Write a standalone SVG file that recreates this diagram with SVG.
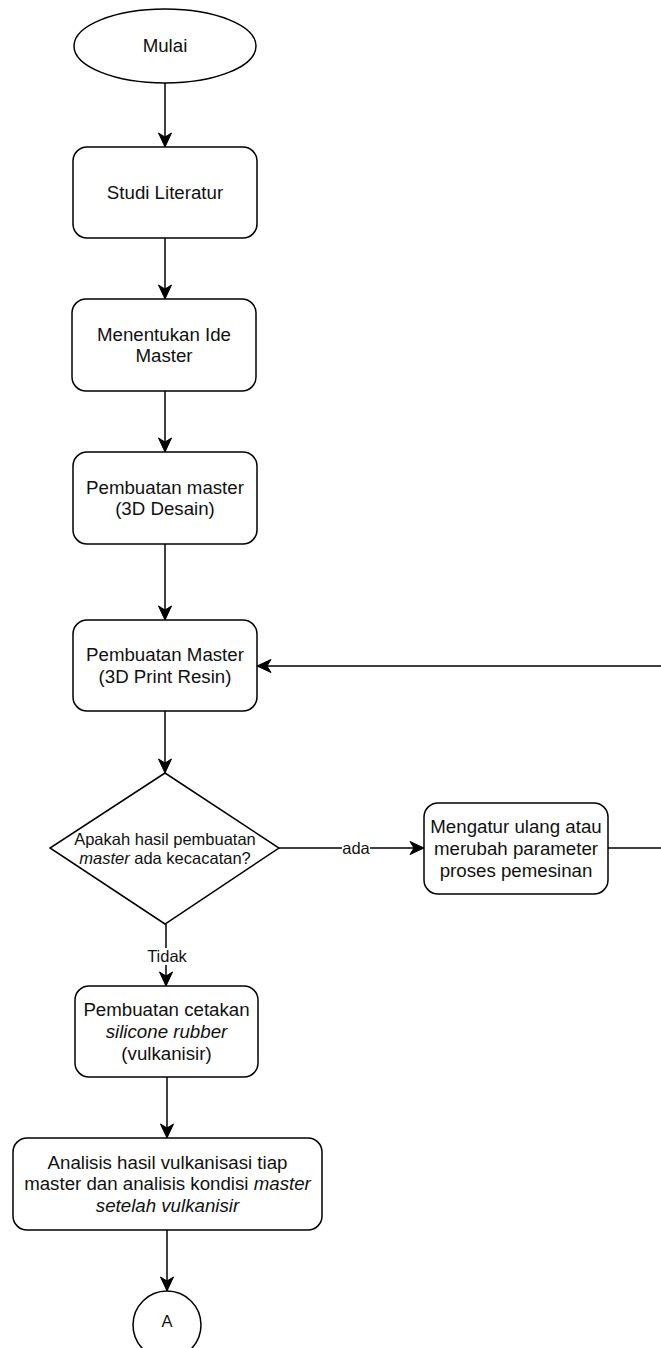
<svg xmlns="http://www.w3.org/2000/svg" width="661" height="1348" viewBox="0 0 661 1348">
<defs>
<marker id="arr" markerUnits="userSpaceOnUse" markerWidth="16" markerHeight="16" viewBox="-15 -8 16 16" refX="0" refY="0" orient="auto">
<path d="M0 0 L-14 -6.5 L-10 0 L-14 6.5 Z" fill="#000" stroke="#000" stroke-width="1"/>
</marker>
</defs>
<style>
.n{fill:#fff;stroke:#000;stroke-width:1.5}
.t{font-family:"Liberation Sans",Arial,sans-serif;font-size:18.7px;fill:#111;text-anchor:middle}
.s{font-family:"Liberation Sans",Arial,sans-serif;font-size:16.5px;fill:#111;text-anchor:middle}
.c{fill:none;stroke:#000;stroke-width:1.5;marker-end:url(#arr)}
.lb{fill:#fff}
</style>
<rect width="661" height="1348" fill="#fff"/>
<g id="connectors">
<line class="c" x1="165" y1="83" x2="165" y2="147"/>
<line class="c" x1="165" y1="238" x2="165" y2="299"/>
<line class="c" x1="165" y1="391" x2="165" y2="452"/>
<line class="c" x1="165" y1="544" x2="165" y2="620"/>
<line class="c" x1="165" y1="711" x2="165" y2="773"/>
<line class="c" x1="166" y1="924" x2="166" y2="986"/>
<line class="c" x1="167" y1="1077" x2="167" y2="1138"/>
<line class="c" x1="167" y1="1230" x2="167" y2="1291"/>
<line class="c" x1="279" y1="848" x2="424" y2="848"/>
<path class="c" d="M608 848 H680 V666 H257"/>
<rect class="lb" x="342" y="840" width="28" height="17"/>
<text class="s" x="356" y="854">ada</text>
<rect class="lb" x="147" y="948" width="40" height="17"/>
<text class="s" x="167" y="962">Tidak</text>
</g>
<g id="mulai">
<ellipse class="n" cx="165" cy="46" rx="91" ry="37"/>
<text class="t" x="165" y="52">Mulai</text>
</g>
<g id="studi">
<rect class="n" x="73" y="147" width="184" height="91" rx="14"/>
<text class="t" x="165" y="199">Studi Literatur</text>
</g>
<g id="ide">
<rect class="n" x="72" y="299" width="184" height="92" rx="14"/>
<text class="t" x="164" y="340.5">Menentukan Ide</text>
<text class="t" x="164" y="362">Master</text>
</g>
<g id="desain">
<rect class="n" x="73" y="452" width="184" height="92" rx="14"/>
<text class="t" x="165" y="493.5">Pembuatan master</text>
<text class="t" x="165" y="515">(3D Desain)</text>
</g>
<g id="print">
<rect class="n" x="73" y="620" width="184" height="91" rx="14"/>
<text class="t" x="165" y="661">Pembuatan Master</text>
<text class="t" x="165" y="682.5">(3D Print Resin)</text>
</g>
<g id="cek">
<polygon class="n" points="165,773 279,848 165,924 50,848"/>
<text class="s" x="165" y="845">Apakah hasil pembuatan</text>
<text class="s" x="165" y="864"><tspan font-style="italic">master</tspan> ada kecacatan?</text>
</g>
<g id="atur">
<rect class="n" x="424" y="803" width="184" height="91" rx="14"/>
<text class="t" x="516" y="833">Mengatur ulang atau</text>
<text class="t" x="516" y="855">merubah parameter</text>
<text class="t" x="516" y="876.5">proses pemesinan</text>
</g>
<g id="cetakan">
<rect class="n" x="75" y="986" width="183" height="91" rx="14"/>
<text class="t" x="166.5" y="1016">Pembuatan cetakan</text>
<text class="t" x="166.5" y="1038" font-style="italic">silicone rubber</text>
<text class="t" x="166.5" y="1059.5">(vulkanisir)</text>
</g>
<g id="analisis">
<rect class="n" x="13" y="1138" width="309" height="92" rx="14"/>
<text class="t" x="167.5" y="1168.5">Analisis hasil vulkanisasi tiap</text>
<text class="t" x="167.5" y="1190">master dan analisis kondisi <tspan font-style="italic">master</tspan></text>
<text class="t" x="167.5" y="1212" font-style="italic">setelah vulkanisir</text>
</g>
<g id="a">
<circle class="n" cx="167" cy="1325" r="34"/>
<text class="s" x="167" y="1327">A</text>
</g>
</svg>
